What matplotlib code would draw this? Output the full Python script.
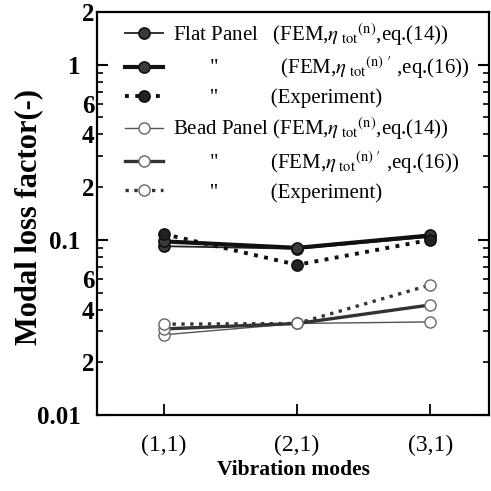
import matplotlib
matplotlib.use("Agg")
import matplotlib.pyplot as plt
from matplotlib.ticker import FixedLocator, FuncFormatter
import numpy as np

modes = ['(1,1)', '(2,1)', '(3,1)']
flat_eq14 = [0.092, 0.089, 0.104]
flat_eq16 = [0.098, 0.090, 0.106]
flat_exp = [0.108, 0.072, 0.100]
bead_eq14 = [0.0287, 0.0333, 0.0340]
bead_eq16 = [0.0310, 0.0333, 0.0425]
bead_exp = [0.0330, 0.0333, 0.0553]

eta14 = '$\\eta_{\\rm\\ tot}{}^{\\rm (n)}$'
eta16 = '$\\eta_{\\rm\\ tot}{}^{\\rm (n)\\ \\prime}$'
ditto = ' ' * 7 + '"' + ' ' * 10
labels = [
    'Flat Panel   (FEM,' + eta14 + ',eq.(14))',
    ditto + '  (FEM,' + eta16 + ' ,eq.(16))',
    ditto + '(Experiment)',
    'Bead Panel (FEM,' + eta14 + ',eq.(14))',
    ditto + '(FEM,' + eta16 + ' ,eq.(16))',
    ditto + '(Experiment)',
]

plt.rcParams['font.family'] = ['Liberation Serif', 'DejaVu Serif']
plt.rcParams['mathtext.fontset'] = 'stix'

fig = plt.figure(figsize=(4.91, 4.91), dpi=100)
ax = fig.add_axes([0.1976, 0.1548, 0.7984, 0.8208])

x = np.arange(1, len(modes) + 1)
ms = 8
ax.plot(x, flat_eq14, '-', color='#222222', lw=1.3, marker='o', ms=ms,
        mfc='#3a3a3a', mec='#111111', mew=1.2, label=labels[0])
ax.plot(x, flat_eq16, '-', color='#111111', lw=3.0, marker='o', ms=ms,
        mfc='#3a3a3a', mec='#111111', mew=1.2, label=labels[1])
ax.plot(x, flat_exp, ':', color='#111111', lw=2.8, marker='o', ms=ms,
        mfc='#222222', mec='#111111', mew=1.2, label=labels[2])
ax.plot(x, bead_eq14, '-', color='#555555', lw=1.0, marker='o', ms=ms,
        mfc='white', mec='#666666', mew=1.0, label=labels[3])
ax.plot(x, bead_eq16, '-', color='#333333', lw=2.4, marker='o', ms=ms,
        mfc='white', mec='#666666', mew=1.0, label=labels[4])
ax.plot(x, bead_exp, ':', color='#333333', lw=2.4, marker='o', ms=ms,
        mfc='white', mec='#666666', mew=1.0, label=labels[5])

ax.set_yscale('log')
ax.set_ylim(0.01, 2)
ax.set_xlim(0.5, 3.44)
ax.set_xticks(x)
ax.set_xticklabels(modes, fontsize=17)

ax.yaxis.set_major_locator(FixedLocator([0.01, 0.1, 1]))
ax.yaxis.set_major_formatter(FuncFormatter(lambda v, p: {0.01: '0.01', 0.1: '0.1', 1: '1'}.get(round(v, 3), '')))
minor = [m * d for d in (0.01, 0.1, 1) for m in range(2, 10) if m * d <= 2.0001]
ax.yaxis.set_minor_locator(FixedLocator(minor))

def minfmt(v, p):
    lead = int(round(v / 10 ** np.floor(np.log10(v) + 1e-9)))
    return str(lead) if lead in (2, 4, 6) else ''
ax.yaxis.set_minor_formatter(FuncFormatter(minfmt))

ax.tick_params(axis='y', which='both', labelsize=18, direction='in', right=True)
ax.tick_params(axis='y', which='major', length=8, width=1.5, pad=12)
ax.tick_params(axis='y', which='minor', length=4, width=1.2, pad=2)
ax.tick_params(axis='x', which='both', direction='in', length=8, width=1.3, pad=14, top=False)
for lab in ax.get_yticklabels(which='both'):
    lab.set_fontweight('bold')

for s in ax.spines.values():
    s.set_linewidth(1.6)

ax.set_xlabel('Vibration modes', fontsize=15.5, fontweight='bold', labelpad=3)
ax.set_ylabel('Modal loss factor(-)', fontsize=22, fontweight='bold')
ax.yaxis.set_label_coords(-0.138, 0.491)

leg = ax.legend(loc='upper left', bbox_to_anchor=(0.0714, 0.978), frameon=False,
                fontsize=15, handlelength=1.83, handletextpad=0.48,
                labelspacing=0.34, borderaxespad=0.0, borderpad=0.0)

fig.savefig('out.png', dpi=100)
